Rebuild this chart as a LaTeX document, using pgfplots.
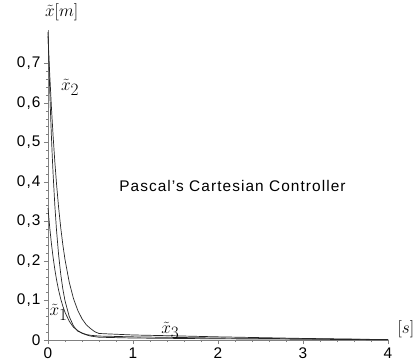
\documentclass[border=0pt]{standalone}
\usepackage{pgfplots}
\pgfplotsset{compat=1.18}
\usepackage{fontspec}
\setmainfont{Liberation Sans}[LetterSpace=7]
\begin{document}
\begin{tikzpicture}
\begin{axis}[
  x=85pt, y=395pt,
  xmin=0, xmax=4, ymin=0, ymax=0.785,
  enlargelimits=false,
  axis lines=left,
  axis line style={gray, line width=0.6pt, -},
  xtick={0,1,2,3,4},
  ytick={0,0.1,0.2,0.3,0.4,0.5,0.6,0.7},
  minor x tick num=4,
  minor y tick num=4,
  tick style={gray, line width=0.5pt},
  major tick length=4pt, minor tick length=2pt,
  tick align=outside,
  /pgf/number format/use comma,
  /pgf/number format/assume math mode=true,
  tick label style={font=\fontsize{15.4}{18}\selectfont},
  clip=false,
]
\addplot[black!85, line width=0.7pt] coordinates {
(0,0.334)(0.02,0.2858)(0.04,0.2445)(0.06,0.2092)(0.08,0.1790)(0.1,0.1531)
(0.125,0.1260)(0.15,0.1037)(0.175,0.0853)(0.2,0.0702)(0.25,0.0475)(0.3,0.0322)
(0.35,0.024)(0.4,0.017)(0.45,0.013)(0.5,0.010)(0.6,0.007)(0.8,0.006)(1,0.005)
(2,0.003)(3,0.002)(4,0.0005)};
\addplot[black!85, line width=0.7pt] coordinates {
(0,0.78)(0.01,0.7036)(0.02,0.6348)(0.03,0.5727)(0.04,0.5166)(0.05,0.4660)
(0.06,0.4204)(0.08,0.3422)(0.1,0.2785)(0.125,0.2153)(0.15,0.1664)(0.175,0.1286)
(0.2,0.0994)(0.25,0.0594)(0.3,0.0355)(0.35,0.0222)(0.4,0.018)(0.45,0.014)
(0.5,0.012)(0.6,0.010)(0.8,0.009)(1,0.008)(2,0.005)(3,0.003)(4,0.001)};
\addplot[black!85, line width=0.7pt] coordinates {
(0,0.77)(0.02,0.6741)(0.04,0.5902)(0.06,0.5167)(0.08,0.4523)(0.1,0.3960)
(0.125,0.3353)(0.15,0.2840)(0.175,0.2405)(0.2,0.2036)(0.25,0.1461)(0.3,0.1047)
(0.35,0.0751)(0.4,0.0538)(0.45,0.0386)(0.5,0.029)(0.55,0.021)(0.6,0.0165)
(0.7,0.0155)(1,0.0127)(1.5,0.0105)(2,0.008)(3,0.004)(4,0.001)};
\coordinate (O) at (axis cs:0,0);
\node[font=\fontsize{16}{18}\selectfont] at (axis cs:0.16,0.83) {$\tilde{x}[m]$};
\node[font=\fontsize{16}{18}\selectfont] at (axis cs:4.21,0.028) {$[s]$};
\node[font=\fontsize{16}{18}\selectfont] at (axis cs:0.26,0.64) {$\tilde{x}_{\textstyle 2}$};
\node[font=\fontsize{16}{18}\selectfont] at (axis cs:0.124,0.071) {$\tilde{x}_{\textstyle 1}$};
\node[font=\fontsize{16}{18}\selectfont] at (axis cs:1.44,0.025) {$\tilde{x}_{\textstyle 3}$};
\node[font=\fontsize{15.4}{18}\selectfont] at (axis cs:2.17,0.39) {Pascal's Cartesian Controller};
\end{axis}
\pgfresetboundingbox
\path (O) ++(-48pt,-21pt) rectangle ++(417pt,361pt);
\end{tikzpicture}
\end{document}
